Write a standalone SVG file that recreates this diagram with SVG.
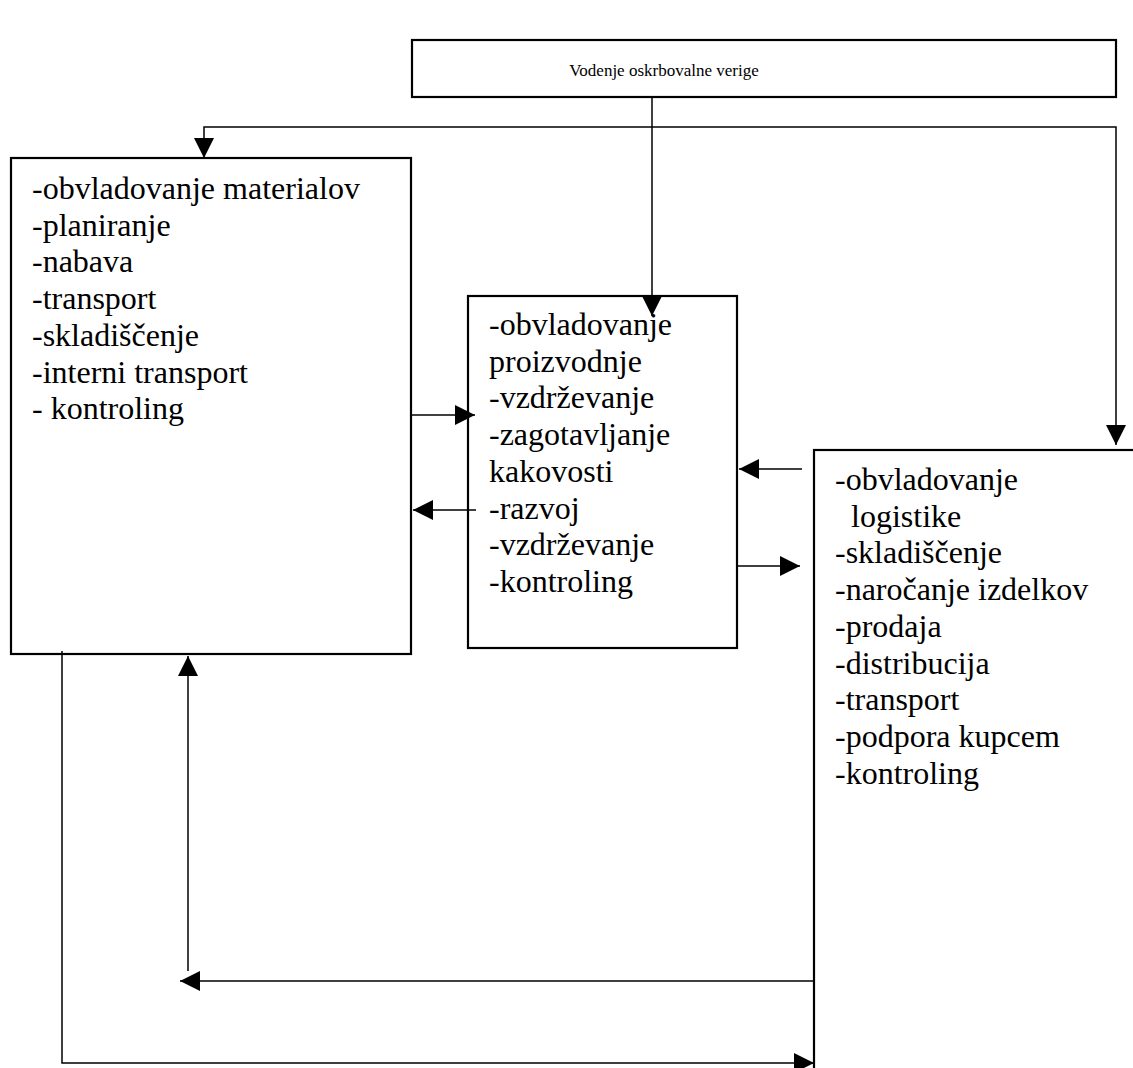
<svg xmlns="http://www.w3.org/2000/svg" width="1133" height="1068" viewBox="0 0 1133 1068">
  <style>
    .box { fill: #ffffff; stroke: #000000; stroke-width: 2.2; }
    .conn { fill: none; stroke: #000000; stroke-width: 1.5; }
    .lbl { font-family: "Liberation Serif", "Times New Roman", serif; font-size: 32px; fill: #000000; }
    .title { font-family: "Liberation Serif", "Times New Roman", serif; font-size: 17px; fill: #000000; }
  </style>
  <defs>
    <marker id="tri" viewBox="0 0 20 20" refX="20" refY="10" markerWidth="20" markerHeight="20" markerUnits="userSpaceOnUse" orient="auto">
      <path d="M0,0 L20,10 L0,20 Z" fill="#000000"/>
    </marker>
  </defs>
  <rect width="1133" height="1068" fill="#ffffff"/>

  <!-- boxes -->
  <g id="node-supply-chain">
    <rect class="box" x="412" y="40" width="704" height="57"/>
    <text class="title" x="664" y="76" text-anchor="middle">Vodenje oskrbovalne verige</text>
  </g>

  <g id="node-materials">
    <rect class="box" x="11" y="158" width="400" height="496"/>
    <text class="lbl">
      <tspan x="32" y="199">-obvladovanje materialov</tspan>
      <tspan x="32" y="235.7">-planiranje</tspan>
      <tspan x="32" y="272.4">-nabava</tspan>
      <tspan x="32" y="309.1">-transport</tspan>
      <tspan x="32" y="345.8">-skladiščenje</tspan>
      <tspan x="32" y="382.5">-interni transport</tspan>
      <tspan x="32" y="419.2">- kontroling</tspan>
    </text>
  </g>

  <g id="node-production">
    <rect class="box" x="468" y="296" width="269" height="352"/>
    <text class="lbl">
      <tspan x="489" y="335">-obvladovanje</tspan>
      <tspan x="489" y="371.7">proizvodnje</tspan>
      <tspan x="489" y="408.4">-vzdrževanje</tspan>
      <tspan x="489" y="445.1">-zagotavljanje</tspan>
      <tspan x="489" y="481.8">kakovosti</tspan>
      <tspan x="489" y="518.5">-razvoj</tspan>
      <tspan x="489" y="555.2">-vzdrževanje</tspan>
      <tspan x="489" y="591.9">-kontroling</tspan>
    </text>
  </g>

  <g id="node-logistics">
    <rect class="box" x="814" y="450" width="400" height="700"/>
    <text class="lbl">
      <tspan x="835" y="490">-obvladovanje</tspan>
      <tspan x="851" y="526.7">logistike</tspan>
      <tspan x="835" y="563.4">-skladiščenje</tspan>
      <tspan x="835" y="600.1">-naročanje izdelkov</tspan>
      <tspan x="835" y="636.8">-prodaja</tspan>
      <tspan x="835" y="673.5">-distribucija</tspan>
      <tspan x="835" y="710.2">-transport</tspan>
      <tspan x="835" y="746.9">-podpora kupcem</tspan>
      <tspan x="835" y="783.6">-kontroling</tspan>
    </text>
  </g>

  <!-- connectors -->
  <g id="connectors">
    <!-- top distribution bus -->
    <line class="conn" x1="652" y1="97" x2="652" y2="316" marker-end="url(#tri)"/>
    <polyline class="conn" points="652,127 204,127 204,158" marker-end="url(#tri)"/>
    <polyline class="conn" points="652,127 1116,127 1116,445" marker-end="url(#tri)"/>

    <!-- materials <-> production -->
    <line class="conn" x1="411" y1="415" x2="475" y2="415" marker-end="url(#tri)"/>
    <line class="conn" x1="476" y1="510" x2="413" y2="510" marker-end="url(#tri)"/>

    <!-- production <-> logistics -->
    <line class="conn" x1="802" y1="469" x2="739" y2="469" marker-end="url(#tri)"/>
    <line class="conn" x1="737" y1="566" x2="800" y2="566" marker-end="url(#tri)"/>

    <!-- logistics -> materials feedback -->
    <line class="conn" x1="814" y1="981" x2="180" y2="981" marker-end="url(#tri)"/>
    <line class="conn" x1="188" y1="971" x2="188" y2="656" marker-end="url(#tri)"/>

    <!-- materials -> logistics -->
    <polyline class="conn" points="62,651 62,1063 814,1063" marker-end="url(#tri)"/>
  </g>
</svg>
